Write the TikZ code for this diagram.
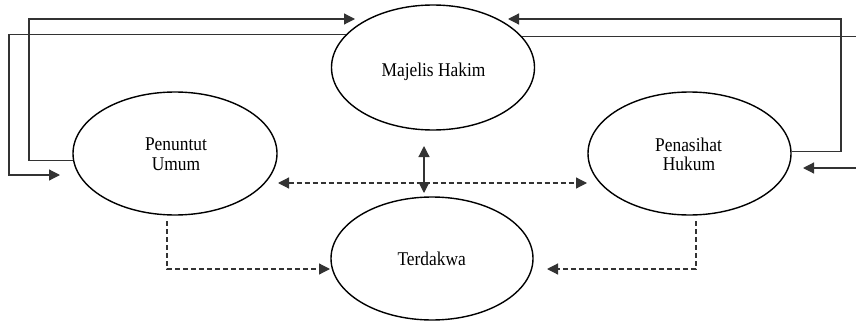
\documentclass[tikz,border=0pt]{standalone}
\usepackage{fontspec}
\setmainfont{Liberation Serif}
\usetikzlibrary{shapes.geometric,arrows.meta}
\begin{document}
\begin{tikzpicture}[x=1pt,y=-1pt,
  actor/.style={draw=black,line width=1.4pt,ellipse,inner sep=0pt},
  txt/.style={anchor=base,inner sep=0pt,font=\fontsize{17.4}{19}\selectfont},
  link/.style={draw=black!80,line width=1.2pt},
  tip/.style={-{Triangle[length=11pt,width=11pt]}},
  dtip/.style={{Triangle[length=11pt,width=11pt]}-{Triangle[length=11pt,width=11pt]}},
  dashline/.style={dash pattern=on 5pt off 3pt}]
\newcommand{\stretchtxt}[1]{\scalebox{1}[1.12]{#1}}
\useasboundingbox (0,0) rectangle (856,321);
\node[actor,minimum width=203pt,minimum height=125pt] (mh) at (433,67.5) {};
\node[actor,minimum width=204pt,minimum height=123pt] (pu) at (175,153.5) {};
\node[actor,minimum width=203pt,minimum height=123pt] (ph) at (689.5,153.5) {};
\node[actor,minimum width=202pt,minimum height=123pt] (td) at (432,258.5) {};
% texts
\node[txt] (mht) at (433.5,76) {\stretchtxt{Majelis Hakim}};
\node[txt] (pu1) at (176,150.5) {\stretchtxt{Penuntut}};
\node[txt] (pu2) at (176,170) {\stretchtxt{Umum}};
\node[txt] (ph1) at (688.5,151.5) {\stretchtxt{Penasihat}};
\node[txt] (ph2) at (689,170) {\stretchtxt{Hukum}};
\node[txt] (tdt) at (431.7,265.7) {\stretchtxt{Terdakwa}};
% corner and free-end coordinates
\coordinate (c1) at (29,19);
\coordinate (c1e) at (355,19);
\coordinate (c2) at (9,175);
\coordinate (c2e) at (60,175);
\coordinate (c3) at (841,19);
\coordinate (c3e) at (508,19);
\coordinate (edge) at (856,0);
\coordinate (c5) at (856,168);
\coordinate (c5e) at (803,168);
\coordinate (va) at (424,146);
\coordinate (vb) at (424,193);
\coordinate (ha) at (278,183);
\coordinate (hb) at (587,183);
\coordinate (l1) at (167,221);
\coordinate (l2) at (167,269);
\coordinate (l3) at (330,269);
\coordinate (r1) at (696,221);
\coordinate (r2) at (696,269);
\coordinate (r3) at (547,269);
% solid connectors
\draw[link,tip] (pu.184) -| (c1) -- (c1e);
\draw[link,tip] (mh.159) -| (c2) -- (c2e);
\draw[link,tip] (ph.1.5) -| (c3) -- (c3e);
\draw[link] (mh.19) -- (mh.19 -| edge);
\draw[link,tip] (c5) -- (c5e);
\draw[link,dtip] (va) -- (vb);
% dashed connectors
\draw[link,dashline,dtip] (ha) -- (hb);
\draw[link,dashline,tip] (l1) -- (l2) -- (l3);
\draw[link,dashline,tip] (r1) -- (r2) -- (r3);
\end{tikzpicture}
\end{document}
